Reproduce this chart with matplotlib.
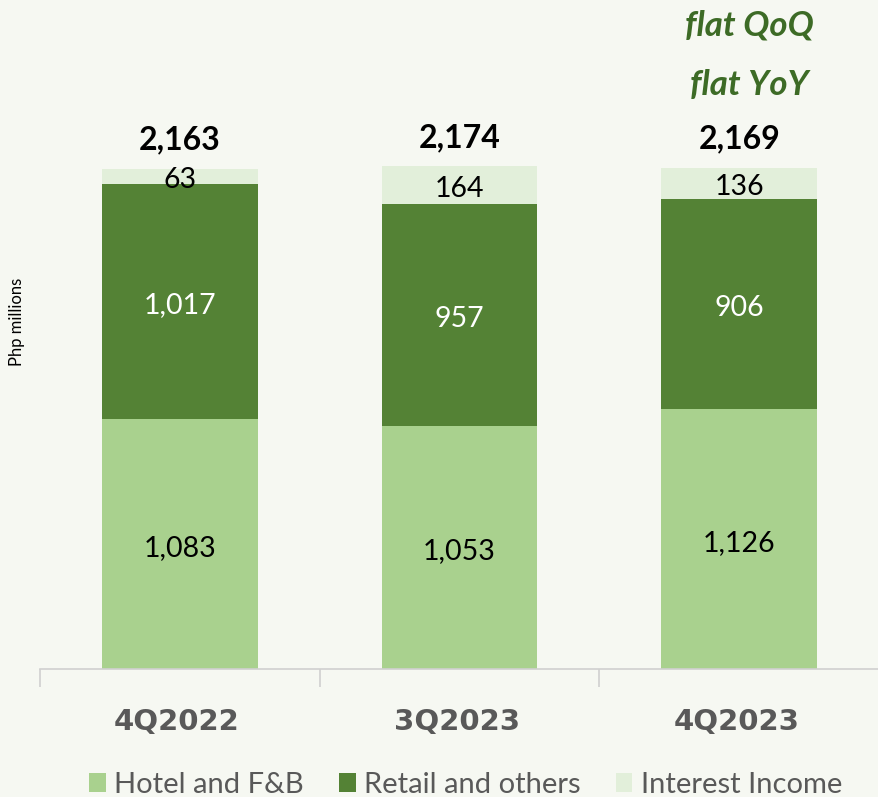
import matplotlib.pyplot as plt
import numpy as np

categorias = ["4Q2022", "3Q2023", "4Q2023"]
hotel_fb = [1083, 1053, 1126]
retail = [1017, 957, 906]
juros = [63, 164, 136]
totais = [2163, 2174, 2169]
notas = ["flat QoQ", "flat YoY"]

COR_HOTEL = "#A9D18E"
COR_RETAIL = "#548235"
COR_JUROS = "#E2EFDA"
COR_FUNDO = "#F6F8F2"
COR_CINZA = "#595959"

plt.rcParams["font.family"] = ["Lato", "DejaVu Sans"]

fig = plt.figure(figsize=(8.79, 7.97), dpi=100, facecolor=COR_FUNDO)
ax = fig.add_axes([40 / 879, 128 / 797, 1 - 40 / 879, 669 / 797])
ax.set_facecolor(COR_FUNDO)

x = np.arange(len(categorias))
largura = 0.556
hotel_fb = np.array(hotel_fb)
retail = np.array(retail)
juros = np.array(juros)

b1 = ax.bar(x, hotel_fb, largura, color=COR_HOTEL, label="Hotel and F&B")
b2 = ax.bar(x, retail, largura, bottom=hotel_fb, color=COR_RETAIL, label="Retail and others")
b3 = ax.bar(x, juros, largura, bottom=hotel_fb + retail, color=COR_JUROS, label="Interest Income")

# rótulos de cada segmento (ajuste de -17 para compensar o descendente da fonte)
ajuste = -17
for i in range(len(x)):
    ax.text(x[i], hotel_fb[i] / 2 + ajuste, f"{hotel_fb[i]:,}", ha="center", va="center",
            fontsize=20.5, color="black")
    ax.text(x[i], hotel_fb[i] + retail[i] / 2 + ajuste, f"{retail[i]:,}", ha="center",
            va="center", fontsize=20.5, color="white")
    ax.text(x[i], hotel_fb[i] + retail[i] + juros[i] / 2 + ajuste, f"{juros[i]:,}",
            ha="center", va="center", fontsize=20.5, color="black")
    ax.text(x[i], totais[i] + 125, f"{totais[i]:,}", ha="center", va="center",
            fontsize=23, fontweight="bold", color="black")

# comentários de variação acima da última barra
ax.text(x[-1] + 0.035, 2785, notas[0], ha="center", va="center", fontsize=25,
        fontweight="bold", fontstyle="italic", color="#3D6B26")
ax.text(x[-1] + 0.035, 2526, notas[1], ha="center", va="center", fontsize=25,
        fontweight="bold", fontstyle="italic", color="#3D6B26")

ax.set_xlim(-0.5, 2.5)
ax.set_ylim(0, 2894)

for lado in ["top", "right", "left"]:
    ax.spines[lado].set_visible(False)
ax.spines["bottom"].set_color("#D0D0D0")
ax.spines["bottom"].set_linewidth(1.2)

ax.set_yticks([])
ax.set_xticks([-0.5, 0.5, 1.5, 2.5])
ax.set_xticklabels([])
ax.tick_params(axis="x", length=13, color="#D0D0D0", width=1.2)
for i, cat in enumerate(categorias):
    ax.text(x[i] - 0.01, -228, cat, ha="center", va="center", fontsize=21,
            fontweight="bold", color=COR_CINZA, family="DejaVu Sans")

fig.text(17 / 879, 1 - 322 / 797, "Php millions", rotation=90, ha="center",
         va="center", fontsize=12, color="black")

fig.legend(handles=[b1, b2, b3], loc="center", bbox_to_anchor=(0.53, 1 - 785 / 797),
           ncol=3, frameon=False, fontsize=21, labelcolor=COR_CINZA,
           handlelength=0.56, handleheight=0.6, handletextpad=0.3, columnspacing=1.2)

fig.savefig("out.png", dpi=100, facecolor=COR_FUNDO)
